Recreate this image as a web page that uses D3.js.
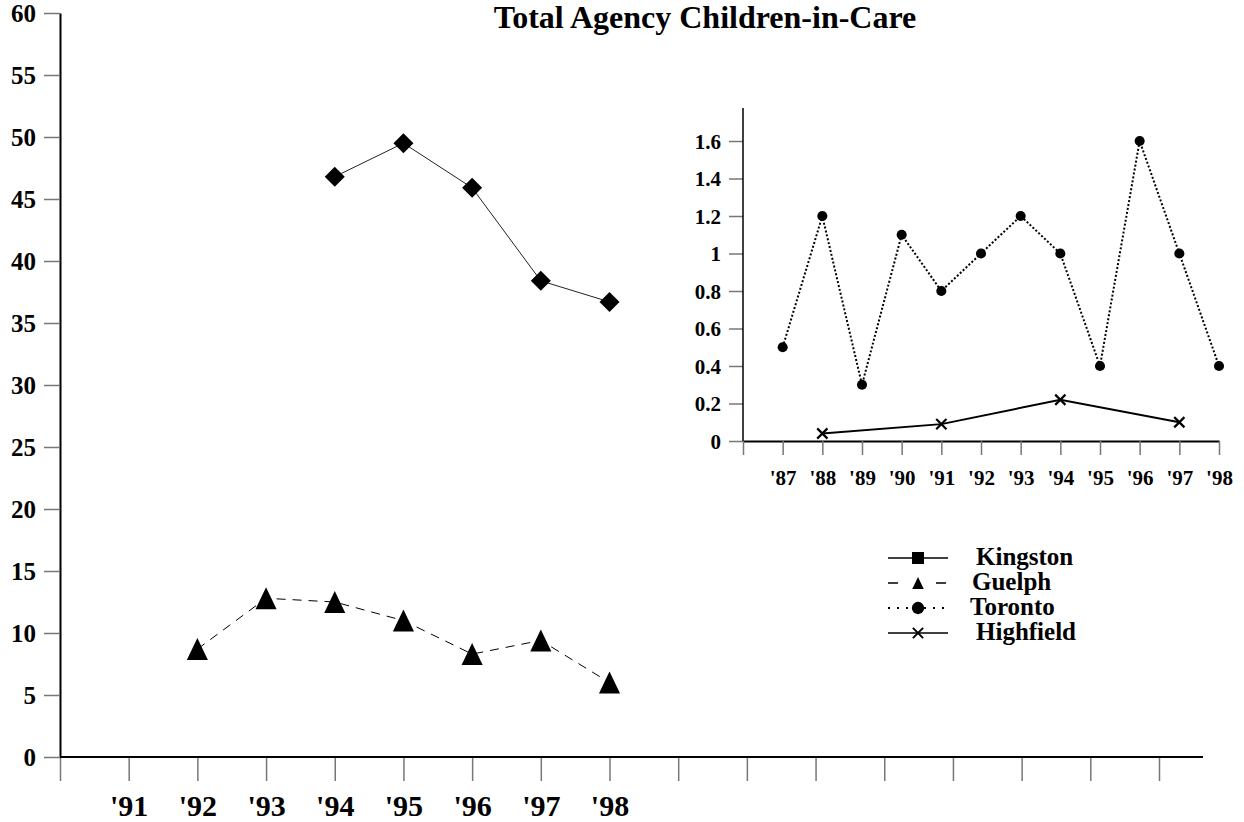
<!DOCTYPE html>
<html>
<head>
<meta charset="utf-8">
<script src="https://cdn.jsdelivr.net/npm/d3@7"></script>
<style>
    body { margin: 0; background: #fff; }
    svg { display: block; }
    text { font-family: 'Liberation Serif', 'Times New Roman', serif; font-weight: bold; fill: #000; }
</style>
</head>
<body>
<div id="chart"></div>
<script>
// main chart
const mainYears = d3.range(1990, 2007);
const mainYearLabels = ["", "'91", "'92", "'93", "'94", "'95", "'96", "'97", "'98"];
const mainYTicks = [0, 5, 10, 15, 20, 25, 30, 35, 40, 45, 50, 55, 60];

const kingstonYears = [1994, 1995, 1996, 1997, 1998];
const kingstonValues = [46.8, 49.5, 45.9, 38.4, 36.7];

const guelphYears = [1992, 1993, 1994, 1995, 1996, 1997, 1998];
const guelphValues = [8.7, 12.8, 12.5, 11.0, 8.3, 9.4, 6.0];

// inset chart
const insetYears = d3.range(1986, 1999);
const insetYearLabels = ["", "'87", "'88", "'89", "'90", "'91", "'92", "'93", "'94", "'95", "'96", "'97", "'98"];
const insetYTicks = [0, 0.2, 0.4, 0.6, 0.8, 1, 1.2, 1.4, 1.6];
const insetYLabels = ['0', '0.2', '0.4', '0.6', '0.8', '1', '1.2', '1.4', '1.6'];

const torontoYears = [1987, 1988, 1989, 1990, 1991, 1992, 1993, 1994, 1995, 1996, 1997, 1998];
const torontoValues = [0.5, 1.2, 0.3, 1.1, 0.8, 1.0, 1.2, 1.0, 0.4, 1.6, 1.0, 0.4];

const highfieldYears = [1988, 1991, 1994, 1997];
const highfieldValues = [0.04, 0.09, 0.22, 0.1];

const legendNames = ['Kingston', 'Guelph', 'Toronto', 'Highfield'];

const title = 'Total Agency Children-in-Care';

const width = 1244;
const height = 822;

const svg = d3
    .select('#chart')
    .append('svg')
    .attr('width', width)
    .attr('height', height);

// upright triangle centred on its bounding box
const triangle = {
    draw(context, size) {
        const w = Math.sqrt(size) / 2;
        context.moveTo(0, -w);
        context.lineTo(w * 0.96, w);
        context.lineTo(-w * 0.96, w);
        context.closePath();
    },
};

const styleAxis = (g) => {
    g.select('.domain').attr('stroke', '#000').attr('stroke-width', 2);
    g.selectAll('.tick line').attr('stroke', '#777').attr('stroke-width', 1.5);
};

// ---------- main chart ----------
const x = d3.scaleLinear().domain([1990, 2006]).range([60, 1159]);
const y = d3.scaleLinear().domain([0, 60]).range([757, 13]);

const yAxis = svg
    .append('g')
    .attr('transform', `translate(${x(1990)},0)`)
    .call(
        d3.axisLeft(y)
            .tickValues(mainYTicks)
            .tickSize(16)
            .tickSizeOuter(0)
            .tickPadding(8),
    );
styleAxis(yAxis);
yAxis.selectAll('text').attr('font-size', 25).attr('dy', '0.34em');

const xAxis = svg
    .append('g')
    .attr('transform', `translate(0,${y(0)})`)
    .call(
        d3.axisBottom(x)
            .tickValues(mainYears)
            .tickSize(24)
            .tickSizeOuter(0)
            .tickFormat((d, i) => mainYearLabels[i] || ''),
    );
styleAxis(xAxis);
xAxis.select('.domain').remove();
xAxis
    .append('line')
    .attr('x1', x(1990))
    .attr('x2', x(2006) + 44)
    .attr('stroke', '#000')
    .attr('stroke-width', 2);
xAxis.selectAll('text').attr('font-size', 30).attr('y', 59).attr('dy', 0);

const mainLine = d3.line().x((d) => x(d[0])).y((d) => y(d[1]));

const kingston = kingstonYears.map((d, i) => [d, kingstonValues[i]]);
const guelph = guelphYears.map((d, i) => [d, guelphValues[i]]);

svg.append('path')
    .attr('d', mainLine(kingston))
    .attr('fill', 'none')
    .attr('stroke', '#222')
    .attr('stroke-width', 1);

svg.append('path')
    .attr('d', mainLine(guelph))
    .attr('fill', 'none')
    .attr('stroke', '#000')
    .attr('stroke-width', 1)
    .attr('stroke-dasharray', '9,7');

svg.selectAll('.kingston')
    .data(kingston)
    .enter()
    .append('path')
    .attr('class', 'kingston')
    .attr('d', d3.symbol(d3.symbolSquare, 200))
    .attr('transform', (d) => `translate(${x(d[0])},${y(d[1])}) rotate(45)`)
    .attr('fill', '#000');

svg.selectAll('.guelph')
    .data(guelph)
    .enter()
    .append('path')
    .attr('class', 'guelph')
    .attr('d', d3.symbol(triangle, 484))
    .attr('transform', (d) => `translate(${x(d[0])},${y(d[1])})`)
    .attr('fill', '#000');

// ---------- inset ----------
const xi = d3.scaleLinear().domain([1986, 1998]).range([743, 1219]);
const yi = d3.scaleLinear().domain([0, 1.6]).range([441, 141]);

const yiAxis = svg
    .append('g')
    .attr('transform', `translate(${xi(1986)},0)`)
    .call(
        d3.axisLeft(yi)
            .tickValues(insetYTicks)
            .tickSize(14)
            .tickSizeOuter(0)
            .tickPadding(8)
            .tickFormat((d, i) => insetYLabels[i]),
    );
styleAxis(yiAxis);
yiAxis.select('.domain').remove();
yiAxis
    .append('line')
    .attr('y1', yi(0))
    .attr('y2', yi(1.6) - 33)
    .attr('stroke', '#000')
    .attr('stroke-width', 1.5);
yiAxis.selectAll('text').attr('font-size', 21).attr('dy', '0.34em');

const xiAxis = svg
    .append('g')
    .attr('transform', `translate(0,${yi(0)})`)
    .call(
        d3.axisBottom(xi)
            .tickValues(insetYears)
            .tickSize(14)
            .tickSizeOuter(0)
            .tickFormat((d, i) => insetYearLabels[i]),
    );
styleAxis(xiAxis);
xiAxis.selectAll('text').attr('font-size', 21).attr('y', 44).attr('dy', 0);

const insetLine = d3.line().x((d) => xi(d[0])).y((d) => yi(d[1]));

const toronto = torontoYears.map((d, i) => [d, torontoValues[i]]);
const highfield = highfieldYears.map((d, i) => [d, highfieldValues[i]]);

svg.append('path')
    .attr('d', insetLine(toronto))
    .attr('fill', 'none')
    .attr('stroke', '#000')
    .attr('stroke-width', 2)
    .attr('stroke-dasharray', '2,2');

svg.append('path')
    .attr('d', insetLine(highfield))
    .attr('fill', 'none')
    .attr('stroke', '#000')
    .attr('stroke-width', 2);

svg.selectAll('.toronto')
    .data(toronto)
    .enter()
    .append('path')
    .attr('class', 'toronto')
    .attr('d', d3.symbol(d3.symbolCircle, 80))
    .attr('transform', (d) => `translate(${xi(d[0])},${yi(d[1])})`)
    .attr('fill', '#000');

svg.selectAll('.highfield')
    .data(highfield)
    .enter()
    .append('path')
    .attr('class', 'highfield')
    .attr('d', d3.symbol(d3.symbolTimes, 70))
    .attr('transform', (d) => `translate(${xi(d[0])},${yi(d[1])})`)
    .attr('fill', 'none')
    .attr('stroke', '#000')
    .attr('stroke-width', 2.2);

// ---------- legend ----------
const legendStyles = [
    { dash: null, width: 1.5, symbol: d3.symbolSquare, size: 144, fill: '#000', stroke: null },
    { dash: '10,38', width: 1.5, symbol: triangle, size: 144, fill: '#000', stroke: null },
    { dash: '2,7', width: 2, symbol: d3.symbolCircle, size: 120, fill: '#000', stroke: null },
    { dash: null, width: 1.5, symbol: d3.symbolTimes, size: 70, fill: 'none', stroke: '#000' },
];

const legend = svg
    .selectAll('.legend')
    .data(legendNames)
    .enter()
    .append('g')
    .attr('class', 'legend')
    .attr('transform', (d, i) => `translate(888,${558 + i * 25})`);

legend
    .append('line')
    .attr('x1', 0)
    .attr('x2', 60)
    .attr('stroke', '#000')
    .attr('stroke-width', (d, i) => legendStyles[i].width)
    .attr('stroke-dasharray', (d, i) => legendStyles[i].dash);

legend
    .append('path')
    .attr('d', (d, i) => d3.symbol(legendStyles[i].symbol, legendStyles[i].size)())
    .attr('transform', 'translate(30,0)')
    .attr('fill', (d, i) => legendStyles[i].fill)
    .attr('stroke', (d, i) => legendStyles[i].stroke)
    .attr('stroke-width', 2);

legend
    .append('text')
    .attr('x', (d, i) => [88, 84, 82, 88][i])
    .attr('y', 7)
    .attr('font-size', 25)
    .text((d) => d);

// ---------- title ----------
svg.append('text')
    .attr('x', 705)
    .attr('y', 28)
    .attr('text-anchor', 'middle')
    .attr('font-size', 32)
    .text(title);
</script>
</body>
</html>
